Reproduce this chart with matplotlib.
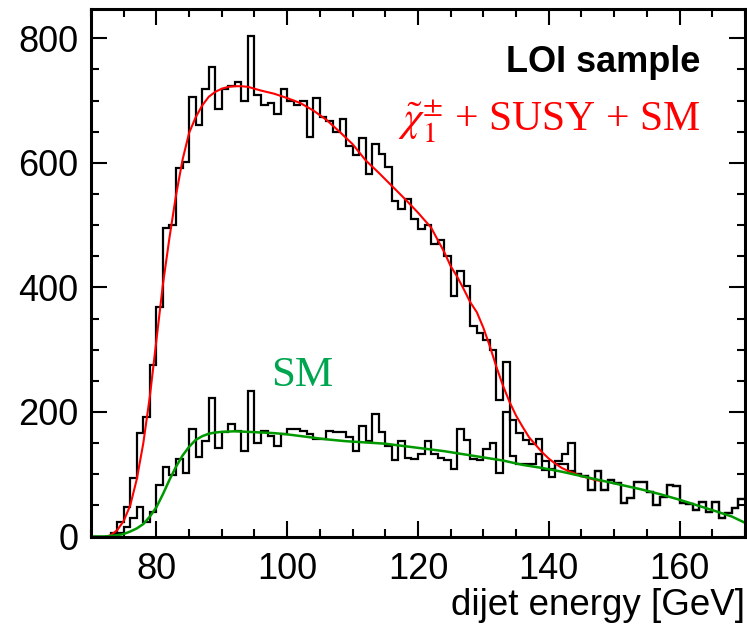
import numpy as np
import matplotlib
matplotlib.use("Agg")
import matplotlib.pyplot as plt
from matplotlib.ticker import MultipleLocator

plt.rcParams["font.family"] = ["Liberation Sans", "DejaVu Sans"]
plt.rcParams["mathtext.fontset"] = "stix"

# bin edges: 1 GeV bins from 70 to 170
bin_lo = 70
bin_hi = 170

# chargino + SUSY + SM (black histogram, upper)
total_counts = [
    0, 0, 0, 6, 24, 47, 94, 166, 192, 275,
    369, 495, 500, 591, 601, 705, 660, 719, 754, 686,
    719, 724, 730, 699, 804, 709, 693, 696, 679, 719,
    699, 693, 699, 642, 704, 674, 667, 650, 671, 627,
    612, 640, 582, 631, 614, 593, 538, 526, 542, 510,
    494, 500, 469, 476, 451, 386, 426, 402, 338, 327,
    316, 300, 219, 280, 187, 166, 155, 149, 157, 122,
    108, 121, 132, 150, 100, 97, 74, 105, 75, 91,
    86, 53, 62, 88, 88, 71, 51, 63, 82, 81,
    54, 52, 43, 55, 39, 55, 30, 37, 46, 60,
]

# SM only (black histogram, lower)
sm_counts = [
    0, 0, 0, 2, 6, 15, 30, 47, 24, 39,
    83, 111, 99, 124, 102, 172, 128, 153, 223, 142,
    167, 181, 170, 138, 233, 150, 170, 162, 146, 165,
    173, 173, 169, 165, 157, 157, 169, 167, 167, 160,
    137, 177, 153, 196, 167, 146, 123, 154, 126, 125,
    133, 154, 133, 126, 123, 108, 172, 155, 125, 123,
    140, 150, 102, 200, 130, 117, 117, 116, 133, 106,
    96, 117, 117, 105, 100, 97, 74, 105, 75, 91,
    86, 53, 62, 88, 88, 71, 51, 63, 82, 81,
    54, 52, 43, 55, 39, 55, 30, 37, 46, 60,
]

# fit curves
red_x = [72.5, 73, 74, 75, 76, 77, 78, 79, 80, 81, 82, 83, 84, 85, 86, 87, 88,
         89, 90, 91, 92, 93, 94, 95, 96, 98, 100, 102, 104, 106, 108, 110,
         112, 114, 116, 118, 120, 122, 124, 125, 126, 127, 128, 129, 130,
         131, 132, 133, 134, 135, 136, 137, 138, 139, 140, 141, 142, 143,
         144, 145, 146, 147, 148]
red_y = [0, 2, 10, 25, 50, 92, 150, 225, 315, 405, 480, 548, 605, 648, 673,
         692, 706, 714, 719, 722, 723, 723, 722, 719, 716, 711, 704, 696, 684,
         669, 650, 630, 604, 584, 563, 542, 520, 496, 457, 434, 417, 397, 376,
         360, 335, 305, 272, 242, 216, 194, 176, 159, 147, 135, 125, 117, 110,
         105, 101, 97, 94, 91, 89]

green_x = [70, 72, 73, 74, 75, 76, 77, 78, 79, 80, 81, 82, 83, 84, 85, 86, 87,
           88, 89, 90, 92, 94, 96, 98, 100, 103, 106, 109, 112, 115, 118, 121,
           124, 127, 130, 133, 136, 139, 142, 145, 148, 151, 154, 157, 160,
           163, 166, 168, 170]
green_y = [0, 0, 1, 2, 4, 8, 13, 20, 32, 47, 68, 91, 112, 130, 144, 155, 161,
           165, 167, 168, 169, 168, 167, 166, 164, 160, 156, 153, 151, 149, 145,
           141, 137, 132, 127, 122, 115, 110, 104, 97, 90, 83, 76, 68, 59,
           49, 39, 32, 22]

edges = np.arange(bin_lo, bin_hi + 1)

fig = plt.figure(figsize=(7.47, 6.31), dpi=100)
ax = fig.add_axes([91 / 747, 1 - 536.5 / 631, 654 / 747, 527.5 / 631])

ax.stairs(total_counts, edges, color="black", linewidth=1.6, baseline=None)
ax.stairs(sm_counts, edges, color="black", linewidth=1.6, baseline=None)
ax.plot(red_x, red_y, color="#ff0000", linewidth=1.5)
ax.plot(green_x, green_y, color="#009900", linewidth=1.8)

ax.set_xlim(70, 170)
ax.set_ylim(0, 847)

ax.xaxis.set_major_locator(MultipleLocator(20))
ax.xaxis.set_minor_locator(MultipleLocator(5))
ax.yaxis.set_major_locator(MultipleLocator(200))
ax.yaxis.set_minor_locator(MultipleLocator(50))
ax.tick_params(which="both", direction="in", top=True, right=True)
ax.tick_params(which="major", length=11.5, width=1.5, labelsize=26)
ax.tick_params(axis="x", which="major", pad=11)
ax.tick_params(axis="y", which="major", pad=9)
ax.tick_params(which="minor", length=6, width=1.5)
for s in ax.spines.values():
    s.set_linewidth(2.2)

ax.set_xlabel("dijet energy [GeV]", fontsize=26.5, loc="right", labelpad=1)

ax.text(0.783, 0.898, "LOI sample", transform=ax.transAxes, fontsize=26,
        fontweight="bold", ha="center", va="center")
ax.text(0.701, 0.786, r"$\tilde{\chi}_1^{\pm}$ + SUSY + SM", transform=ax.transAxes,
        fontsize=30, family="Liberation Serif", color="#ff0000",
        ha="center", va="center")
ax.text(0.323, 0.304, "SM", transform=ax.transAxes, fontsize=31,
        family="Liberation Serif", color="#00a550", ha="center", va="center")

fig.savefig("out.png", dpi=100)
